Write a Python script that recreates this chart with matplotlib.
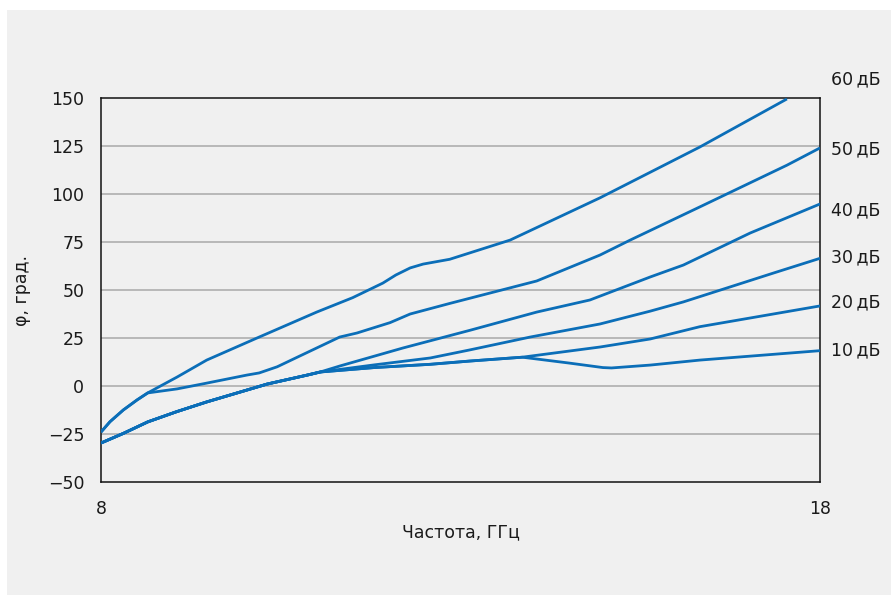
import matplotlib
matplotlib.use("Agg")
import matplotlib.pyplot as plt
from matplotlib.patches import Rectangle

# phase vs frequency for attenuation steps 10..60 dB
a60_x = [8.0, 8.125, 8.31, 8.5, 8.65, 9.06, 9.47, 10.17, 11.0, 11.5, 11.92, 12.1, 12.3, 12.48,
         12.85, 13.69, 14.94, 16.33, 17.54]
a60_y = [-24, -18.6, -12.5, -7.3, -3.6, 4.7, 13.5, 25, 38.5, 46, 53.6, 57.8, 61.5, 63.5,
         66, 76, 98, 124.5, 149.5]

a50_x = [8.0, 8.125, 8.31, 8.5, 8.65, 9.06, 9.47, 10.03, 10.2, 10.45, 10.73, 11.32, 11.56,
         12.02, 12.3, 12.85, 14.06, 14.94, 15.36, 16.33, 17.54, 18.0]
a50_y = [-24, -18.6, -12.5, -7.3, -3.6, -1.5, 1.5, 5.7, 6.8, 10, 15, 25.5, 27.6,
         33, 37.5, 43, 54.7, 68.2, 76, 93.3, 115, 124]

a40_x = [8.0, 8.31, 8.65, 9.05, 9.47, 10.31, 10.87, 11.05, 11.32, 12.2, 13.13, 14.06, 14.8,
         15.64, 16.1, 17.03, 18.0]
a40_y = [-29.7, -24.7, -18.7, -13.4, -8.3, 1, 5.7, 7.3, 10.4, 19.8, 29, 38.5, 44.8,
         56.8, 63, 79.7, 94.8]

a30_x = [8.0, 8.31, 8.65, 9.05, 9.47, 10.31, 10.87, 11.05, 11.8, 12.58, 13.13, 13.97, 14.94,
         15.64, 16.1, 17.35, 18.0]
a30_y = [-29.7, -24.7, -18.7, -13.4, -8.3, 1, 5.7, 7.3, 11, 14.6, 18.8, 25.5, 32.3,
         39, 43.8, 58.8, 66.5]

a20_x = [8.0, 8.31, 8.65, 9.05, 9.47, 10.31, 10.87, 11.05, 11.8, 12.58, 13.13, 13.86, 14.94,
         15.64, 16.33, 18.0]
a20_y = [-29.7, -24.7, -18.7, -13.4, -8.3, 1, 5.7, 7.3, 9.6, 11.3, 13, 15, 20.3,
         24.5, 30.9, 41.7]

a10_x = [8.0, 8.31, 8.65, 9.05, 9.47, 10.31, 10.87, 11.05, 11.8, 12.58, 13.13, 13.86, 14.5,
         14.98, 15.1, 15.64, 16.33, 18.0]
a10_y = [-29.7, -24.7, -18.7, -13.4, -8.3, 1, 5.7, 7.3, 9.6, 11.3, 13, 15, 12,
         9.6, 9.4, 10.9, 13.5, 18.4]

curve_labels = ['60 дБ', '50 дБ', '40 дБ', '30 дБ', '20 дБ', '10 дБ']
label_y = [159.5, 123, 91.7, 67.2, 43.8, 18.8]

y_ticks = [-50, -25, 0, 25, 50, 75, 100, 125, 150]
x_ticks = [8, 18]

line_col = '#0b6eb8'
bg_col = '#f0f0f0'


def main():
    fig = plt.figure(figsize=(8.91, 5.95), dpi=100)
    fig.patch.set_facecolor('white')
    fig.patches.append(Rectangle((7 / 891, 0), 1 - 7 / 891, 1 - 10 / 595,
                                 transform=fig.transFigure, facecolor=bg_col,
                                 edgecolor='none', zorder=-10))

    ax = fig.add_axes([101 / 891, 113 / 595, 719 / 891, 384 / 595])
    ax.set_facecolor(bg_col)

    curves = [(a60_x, a60_y), (a50_x, a50_y), (a40_x, a40_y),
              (a30_x, a30_y), (a20_x, a20_y), (a10_x, a10_y)]
    for xs, ys in curves:
        ax.plot(xs, ys, color=line_col, lw=2.0, solid_joinstyle='round',
                solid_capstyle='butt', zorder=3)

    ax.set_xlim(8, 18)
    ax.set_ylim(-50, 150)
    ax.set_yticks(y_ticks)
    ax.set_xticks(x_ticks)
    for g in y_ticks[1:-1]:
        ax.axhline(g, color='#b8b8b8', lw=1.4, zorder=1)

    ax.tick_params(axis='both', length=0, colors='#1a1a1a')
    ax.tick_params(axis='y', labelsize=12.5, pad=12)
    ax.tick_params(axis='x', labelsize=12.5, pad=13)

    for s in ax.spines.values():
        s.set_color('#111111')
        s.set_linewidth(1.1)

    ax.set_xlabel('Частота, ГГц', fontsize=12.5, color='#1a1a1a', labelpad=4)
    ax.set_ylabel('φ, град.', fontsize=12.5, color='#1a1a1a', labelpad=12)

    for txt, yv in zip(curve_labels, label_y):
        ax.annotate(txt.replace(' ', '\u2009'), xy=(1, yv),
                    xycoords=('axes fraction', 'data'),
                    xytext=(8, 0), textcoords='offset points',
                    va='center', ha='left', fontsize=12.5,
                    color='#1a1a1a', annotation_clip=False)

    fig.savefig('out.png', dpi=100, facecolor=fig.get_facecolor())


if __name__ == '__main__':
    main()
